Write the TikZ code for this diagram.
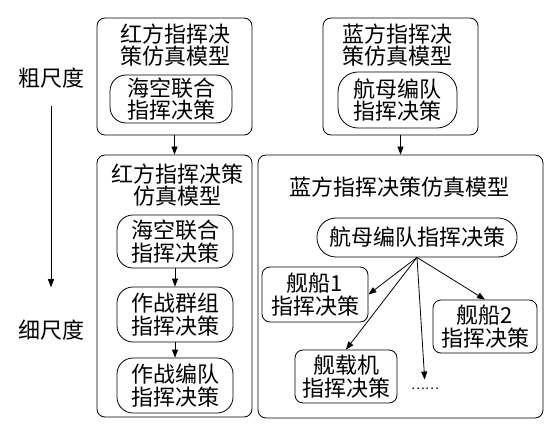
\documentclass[tikz,border=0pt]{standalone}
\usepackage{fontspec}
\newfontfamily\cjk{Noto Sans CJK SC}
\usetikzlibrary{arrows.meta}

\begin{document}
\begin{tikzpicture}[x=1pt, y=-1pt, font=\cjk\fontsize{22}{22.5}\selectfont]
    \tikzstyle{model} = [rectangle, draw, rounded corners=8pt, line width=0.8pt, inner sep=0pt]
    \tikzstyle{cmd} = [rectangle, draw, rounded corners=16pt, line width=0.8pt, align=center, inner sep=0pt]
    \tikzstyle{ship} = [rectangle, draw, rounded corners=8pt, line width=0.8pt, align=center, inner sep=0pt]
    \tikzstyle{title} = [align=center, inner sep=0pt]
    \tikzstyle{arr} = [line width=0.8pt, -{Triangle[length=8pt, width=6pt]}]

    \useasboundingbox (0,0) rectangle (554,425);

    % Scale axis
    \node (coarse) at (51,78) {粗尺度};
    \node (fine) at (51,330) {细尺度};
    \draw[arr, shorten <=14pt, shorten >=29pt] (coarse.south) -- (fine.north);

    % Coarse models
    \node[model, minimum width=155, minimum height=117] (redc) at (174.5,76.5) {};
    \node[title] (redct) at (175,45) {红方指挥决\\策仿真模型};
    \node[cmd, minimum width=122, minimum height=48] (redcc) at (171,99) {海空联合\\指挥决策};
    \node[model, minimum width=155, minimum height=117] (bluec) at (400.5,76.5) {};
    \node[title] (bluect) at (397,45) {蓝方指挥决\\策仿真模型};
    \node[cmd, minimum width=119, minimum height=56, rounded corners=20pt] (bluecc) at (397.5,100) {航母编队\\指挥决策};

    % Fine models, red side
    \node[model, minimum width=155, minimum height=262] (redf) at (174.5,286) {};
    \node[title] (redft) at (177,185) {红方指挥决策\\仿真模型};
    \node[cmd, minimum width=116, minimum height=53] (rsea) at (175,241.5) {海空联合\\指挥决策};
    \node[cmd, minimum width=116, minimum height=55] (rgrp) at (175,314.5) {作战群组\\指挥决策};
    \node[cmd, minimum width=116, minimum height=55] (rfmt) at (175,385.5) {作战编队\\指挥决策};

    % Fine models, blue side
    \node[model, minimum width=285, minimum height=263] (bluef) at (400.5,286.5) {};
    \node[title] (blueft) at (399,187) {蓝方指挥决策仿真模型};
    \node[cmd, minimum width=200, minimum height=39, rounded corners=19pt] (carrier) at (417,237.5) {航母编队指挥决策};
    \node[ship, minimum width=106, minimum height=55] (ship1) at (315,294.5) {舰船1\\指挥决策};
    \node[ship, minimum width=104, minimum height=53] (ship2) at (485,326.5) {舰船2\\指挥决策};
    \node[ship, minimum width=102, minimum height=53] (plane) at (346,376.5) {舰载机\\指挥决策};
    \node[font=\cjk\fontsize{13}{13}\selectfont] (more) at (425,389) {……};

    % Arrows
    \draw[arr] (redc.south) -- (redf.north);
    \draw[arr] (bluec.south) -- (bluef.north);
    \draw[arr] (rsea) -- (rgrp);
    \draw[arr] (rgrp) -- (rfmt);
    \draw[arr] (carrier.south) -- (ship1.east);
    \draw[arr] (carrier.south) -- (plane.north);
    \draw[arr, shorten >=5pt] (carrier.south) -- (more.north);
    \draw[arr] (carrier.south) -- (ship2.north);

\end{tikzpicture}
\end{document}
